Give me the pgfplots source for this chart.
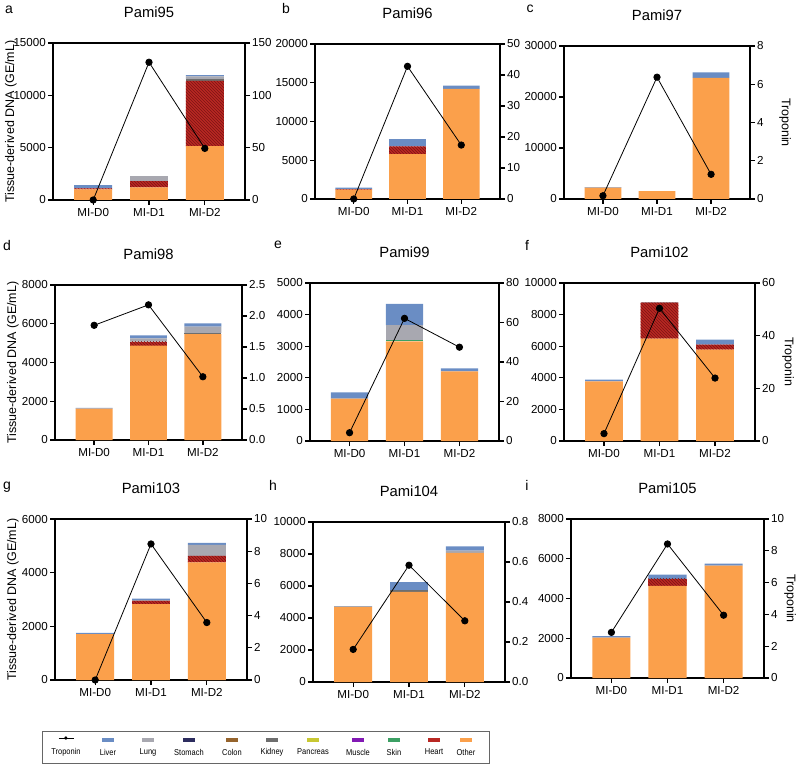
\documentclass[border=0pt]{standalone}
\usepackage{fontspec}
\setmainfont{Liberation Sans}
\newfontfamily\legfont{Liberation Sans}[FakeStretch=0.88]
\usepackage{pgfplots}
\pgfplotsset{compat=1.18}
\usepackage{pgfplotstable}
\usetikzlibrary{patterns}

\definecolor{otherc}{RGB}{251,160,75}
\definecolor{heartc}{RGB}{185,40,35}
\definecolor{heartdk}{RGB}{125,20,20}
\definecolor{liverc}{RGB}{106,141,196}
\definecolor{lungc}{RGB}{168,168,176}
\definecolor{kidneyc}{RGB}{110,110,110}
\definecolor{skinc}{RGB}{60,160,100}
\definecolor{stomachc}{RGB}{45,45,95}
\definecolor{colonc}{RGB}{150,100,45}
\definecolor{pancreasc}{RGB}{200,200,50}
\definecolor{musclec}{RGB}{130,25,180}

\pgfplotstableread{
x Other Heart Skin Kidney Lung Liver Trop
0 1020 80 0 0 0 330 0
1 1200 600 0 0 480 0 131.6
2 5140 6230 0 150 280 130 49.3
}\tA
\pgfplotstableread{
x Other Heart Skin Kidney Lung Liver Trop
0 1200 60 0 0 0 200 0
1 5800 1000 0 0 0 940 42.8
2 14200 0 0 0 0 420 17.4
}\tB
\pgfplotstableread{
x Other Heart Skin Kidney Lung Liver Trop
0 2250 0 0 0 0 60 0.17
1 1560 0 0 0 0 0 6.37
2 23740 0 0 0 0 1100 1.29
}\tC
\pgfplotstableread{
x Other Heart Skin Kidney Lung Liver Trop
0 1620 0 0 0 0 40 1.85
1 4870 210 0 0 170 150 2.18
2 5460 0 0 60 330 170 1.02
}\tD
\pgfplotstableread{
x Other Heart Skin Kidney Lung Liver Trop
0 1340 0 0 0 0 200 4.2
1 3150 0 60 0 450 680 62.1
2 2200 0 0 0 0 100 47.5
}\tE
\pgfplotstableread{
x Other Heart Skin Kidney Lung Liver Trop
0 3780 0 0 0 0 100 2.8
1 6480 2280 0 0 30 0 50.4
2 5780 320 0 0 0 310 23.9
}\tF
\pgfplotstableread{
x Other Heart Skin Kidney Lung Liver Trop
0 1710 0 0 0 0 50 0
1 2830 120 0 0 30 50 8.45
2 4380 250 0 0 410 70 3.57
}\tG
\pgfplotstableread{
x Other Heart Skin Kidney Lung Liver Trop
0 4680 0 0 0 60 0 0.163
1 5630 0 0 100 0 520 0.584
2 8070 0 0 0 140 270 0.306
}\tH
\pgfplotstableread{
x Other Heart Skin Kidney Lung Liver Trop
0 2030 0 0 0 0 80 2.87
1 4640 350 0 0 0 210 8.43
2 5660 0 0 0 0 100 3.95
}\tI

\pgfplotsset{
  base/.style={scale only axis, anchor=south west, xmin=-0.72, xmax=2.72, ymin=0,
    enlargelimits=false,
    axis line style={line width=1.5pt, black},
    every tick/.style={line width=1.3pt, black},
    major tick length=5pt, tick align=outside,
    tick label style={font=\fontsize{11.6}{13}\selectfont},
    yticklabel style={inner xsep=2pt},
    /pgf/number format/assume math mode=true,
    /pgf/number format/1000 sep={},
    scaled y ticks=false,
    label style={font=\fontsize{12.5}{14}\selectfont},
  },
  leftax/.style={base, ybar stacked, bar width=0.68, tick pos=left,
    xtick={0,1,2}, xticklabels={MI-D0,MI-D1,MI-D2},
    title style={font=\fontsize{14.8}{16}\selectfont, at={(0.5,1)}, anchor=center, yshift=25pt},
    ylabel style={at={(axis description cs:0,0.5)}, anchor=center, yshift=42pt},
  },
  rightax/.style={base, axis y line*=right, axis x line=none, clip=false,
    ylabel style={at={(axis description cs:1,0.5)}, anchor=center, rotate=180},
  },
  dec1/.style={yticklabel style={/pgf/number format/.cd, fixed, fixed zerofill, precision=1}},
}

\newcommand{\panel}[4]{%
\begin{axis}[leftax,#2,#3]
 \addplot[fill=otherc, draw=none] table[x=x,y=Other]{#1};
 \addplot[fill=heartc, draw=none, postaction={pattern=north west lines, pattern color=heartdk}] table[x=x,y=Heart]{#1};
 \addplot[fill=skinc, draw=none] table[x=x,y=Skin]{#1};
 \addplot[fill=kidneyc, draw=none] table[x=x,y=Kidney]{#1};
 \addplot[fill=lungc, draw=none] table[x=x,y=Lung]{#1};
 \addplot[fill=liverc, draw=none] table[x=x,y=Liver]{#1};
\end{axis}
\begin{axis}[rightax,#2,#4]
 \addplot[black, line width=0.8pt, mark=*, mark size=3.2pt, mark options={fill=black}] table[x=x,y=Trop]{#1};
\end{axis}}

\newcommand{\legent}[3]{%
  \node at (#1,24) {#2};
  \node at (#1,12) {#3};}

\begin{document}
\begin{tikzpicture}[x=1pt,y=1pt]
\path[use as bounding box] (0,0) rectangle (797,764);

\panel{\tA}{at={(53pt,564pt)}, width=192pt, height=157pt}
  {ymax=15000, ytick distance=5000, title={Pami95}, ylabel={Tissue-derived DNA (GE/mL)}}
  {ymax=150, ytick distance=50}
\panel{\tB}{at={(315pt,565pt)}, width=185pt, height=155pt}
  {ymax=20000, ytick distance=5000, title={Pami96}}
  {ymax=50, ytick distance=10}
\panel{\tC}{at={(564pt,565pt)}, width=186pt, height=153pt}
  {ymax=30000, ytick distance=10000, title={Pami97}}
  {ymax=8, ytick distance=2, ylabel={Troponin}, ylabel style={yshift=35pt}}

\panel{\tD}{at={(55pt,324pt)}, width=187pt, height=155pt}
  {ymax=8000, ytick distance=2000, title={Pami98}, ylabel={Tissue-derived DNA (GE/mL)}}
  {ymax=2.5, ytick distance=0.5, dec1}
\panel{\tE}{at={(310pt,323pt)}, width=189pt, height=158pt}
  {ymax=5000, ytick distance=1000, title={Pami99}}
  {ymax=80, ytick distance=20}
\panel{\tF}{at={(564pt,323pt)}, width=191pt, height=158pt}
  {ymax=10000, ytick distance=2000, title={Pami102}}
  {ymax=60, ytick distance=20, ylabel={Troponin}, ylabel style={yshift=33pt}}

\panel{\tG}{at={(55pt,84pt)}, width=192pt, height=161pt}
  {ymax=6000, ytick distance=2000, title={Pami103}, ylabel={Tissue-derived DNA (GE/mL)}}
  {ymax=10, ytick distance=2}
\panel{\tH}{at={(313pt,82pt)}, width=192pt, height=160pt}
  {ymax=10000, ytick distance=2000, title={Pami104}}
  {ymax=0.8, ytick distance=0.2, dec1}
\panel{\tI}{at={(571pt,86pt)}, width=193pt, height=159pt}
  {ymax=8000, ytick distance=2000, title={Pami105}}
  {ymax=10, ytick distance=2, ylabel={Troponin}, ylabel style={yshift=26pt}}

% panel letters
\begin{scope}[every node/.style={font=\fontsize{14}{16}\selectfont, anchor=center}]
\node at (9,754) {a};
\node at (286,755) {b};
\node at (530,755) {c};
\node at (7,519) {d};
\node at (278,519) {e};
\node at (527,519) {f};
\node at (7,277) {g};
\node at (273,279) {h};
\node at (527,279) {i};
\end{scope}

% legend
\draw[line width=0.7pt, black!60] (42,1) rectangle (489,33);
\begin{scope}[every node/.style={font=\legfont\fontsize{8.5}{9}\selectfont, anchor=center, inner sep=0pt}]
\legent{66}{\makebox[0pt][l]{\rule[3.9pt]{15pt}{0.8pt}}\makebox[15pt]{\fontsize{12}{12}\selectfont\textbullet}}{Troponin}
\legent{108}{\textcolor{liverc}{\rule{12pt}{3.5pt}}}{Liver}
\legent{148}{\textcolor{lungc}{\rule{12pt}{3.5pt}}}{Lung}
\legent{189}{\textcolor{stomachc}{\rule{12pt}{3.5pt}}}{Stomach}
\legent{232}{\textcolor{colonc}{\rule{12pt}{3.5pt}}}{Colon}
\legent{272}{\textcolor{kidneyc}{\rule{12pt}{3.5pt}}}{Kidney}
\legent{313}{\textcolor{pancreasc}{\rule{12pt}{3.5pt}}}{Pancreas}
\legent{358}{\textcolor{musclec}{\rule{12pt}{3.5pt}}}{Muscle}
\legent{394}{\textcolor{skinc}{\rule{12pt}{3.5pt}}}{Skin}
\legent{434}{\textcolor{heartc}{\rule{12pt}{3.5pt}}}{Heart}
\legent{466}{\textcolor{otherc}{\rule{12pt}{3.5pt}}}{Other}
\end{scope}
\end{tikzpicture}
\end{document}
